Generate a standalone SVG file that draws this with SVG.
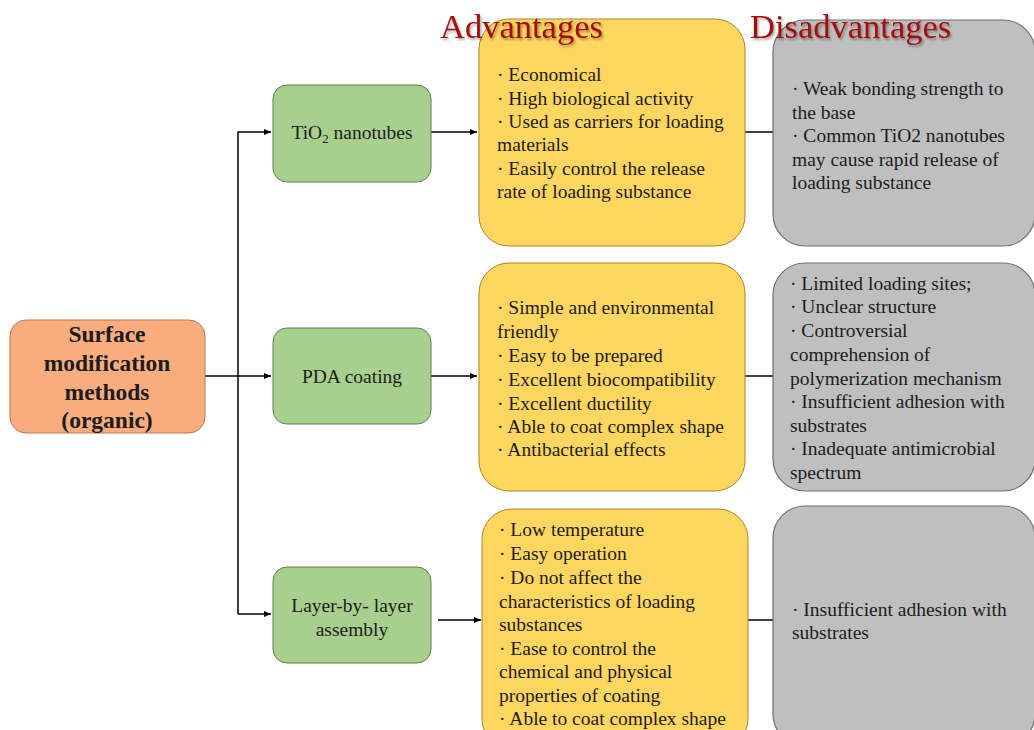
<svg xmlns="http://www.w3.org/2000/svg" width="1034" height="730" viewBox="0 0 1034 730">
<defs>
<style>
.t{font-family:"Liberation Serif","Times New Roman",serif;font-size:19.5px;fill:#1c1c1c}
.c{text-anchor:middle}
.b{font-weight:bold;font-size:23.5px}
.h{font-family:"Liberation Serif","Times New Roman",serif;font-size:34.5px;fill:#a40f10;filter:url(#sh)}
.org{fill:#F9AD7F;stroke:#b8744c;stroke-width:1}
.grn{fill:#A8CF8D;stroke:#5f7f4a;stroke-width:1}
.yel{fill:#FFD65F;stroke:#a8862c;stroke-width:1}
.gry{fill:#BFBFBF;stroke:#707070;stroke-width:1.2}
.ln{fill:none;stroke:#000;stroke-width:1.5}
</style>
<marker id="ah" markerWidth="8" markerHeight="8" refX="7" refY="4" orient="auto" markerUnits="userSpaceOnUse">
<path d="M0,1 L7,4 L0,7 Z" fill="#000"/>
</marker>
<filter id="sh" x="-10%" y="-30%" width="130%" height="160%">
<feDropShadow dx="1.5" dy="2" stdDeviation="1.2" flood-color="#000" flood-opacity="0.35"/>
</filter>
</defs>
<rect width="1034" height="730" fill="#fff"/>

<g id="connectors">
<path class="ln" d="M205,376 H271" marker-end="url(#ah)"/>
<path class="ln" d="M238,614 V132 H271" marker-end="url(#ah)"/>
<path class="ln" d="M238,614 H271" marker-end="url(#ah)"/>
<path class="ln" d="M431,132 H477" marker-end="url(#ah)"/>
<path class="ln" d="M431,376 H477" marker-end="url(#ah)"/>
<path class="ln" d="M438,620 H481" marker-end="url(#ah)"/>
<path class="ln" d="M745,132 H773"/>
<path class="ln" d="M745,376 H773"/>
<path class="ln" d="M748,620 H773"/>
</g>

<g id="root">
<rect class="org" x="10" y="320" width="195" height="113" rx="16"/>
<text class="t c b" x="107" y="342">Surface</text>
<text class="t c b" x="107" y="371">modification</text>
<text class="t c b" x="107" y="400">methods</text>
<text class="t c b" x="107" y="428">(organic)</text>
</g>

<g id="tio2">
<rect class="grn" x="273" y="85" width="158" height="97" rx="14"/>
<text class="t c" x="352" y="139">TiO<tspan font-size="13" dy="4">2</tspan><tspan dy="-4"> nanotubes</tspan></text>
</g>
<g id="pda">
<rect class="grn" x="273" y="328" width="158" height="96" rx="14"/>
<text class="t c" x="352" y="383">PDA coating</text>
</g>
<g id="lbl">
<rect class="grn" x="273" y="567" width="158" height="96" rx="14"/>
<text class="t c" x="352" y="612">Layer-by- layer</text>
<text class="t c" x="352" y="636">assembly</text>
</g>

<g id="adv1">
<rect class="yel" x="479" y="19" width="266" height="227" rx="30"/>
<text class="t" x="497" y="81">· Economical</text>
<text class="t" x="497" y="104.5">· High biological activity</text>
<text class="t" x="497" y="128">· Used as carriers for loading</text>
<text class="t" x="497" y="151">materials</text>
<text class="t" x="497" y="175">· Easily control the release</text>
<text class="t" x="497" y="198">rate of loading substance</text>
</g>
<g id="adv2">
<rect class="yel" x="479" y="263" width="266" height="228" rx="30"/>
<text class="t" x="497" y="314">· Simple and environmental</text>
<text class="t" x="497" y="338">friendly</text>
<text class="t" x="497" y="362">· Easy to be prepared</text>
<text class="t" x="497" y="386">· Excellent biocompatibility</text>
<text class="t" x="497" y="410">· Excellent ductility</text>
<text class="t" x="497" y="433">· Able to coat complex shape</text>
<text class="t" x="497" y="456">· Antibacterial effects</text>
</g>
<g id="adv3">
<rect class="yel" x="482" y="509" width="266" height="240" rx="30"/>
<text class="t" x="499" y="536">· Low temperature</text>
<text class="t" x="499" y="560">· Easy operation</text>
<text class="t" x="499" y="584">· Do not affect the</text>
<text class="t" x="499" y="608">characteristics of loading</text>
<text class="t" x="499" y="631">substances</text>
<text class="t" x="499" y="655">· Ease to control the</text>
<text class="t" x="499" y="678">chemical and physical</text>
<text class="t" x="499" y="702">properties of coating</text>
<text class="t" x="499" y="725">· Able to coat complex shape</text>
</g>

<g id="dis1">
<rect class="gry" x="773" y="20" width="262" height="226" rx="32"/>
<text class="t" x="792" y="95">· Weak bonding strength to</text>
<text class="t" x="792" y="119">the base</text>
<text class="t" x="792" y="142">·  Common TiO2 nanotubes</text>
<text class="t" x="792" y="166">may cause rapid release of</text>
<text class="t" x="792" y="189">loading substance</text>
</g>
<g id="dis2">
<rect class="gry" x="773" y="263" width="262" height="228" rx="32"/>
<text class="t" x="790" y="290">· Limited loading sites;</text>
<text class="t" x="790" y="313">· Unclear structure</text>
<text class="t" x="790" y="337">· Controversial</text>
<text class="t" x="790" y="361">comprehension of</text>
<text class="t" x="790" y="385">polymerization mechanism</text>
<text class="t" x="790" y="408">· Insufficient adhesion with</text>
<text class="t" x="790" y="432">substrates</text>
<text class="t" x="790" y="455">· Inadequate antimicrobial</text>
<text class="t" x="790" y="479">spectrum</text>
</g>
<g id="dis3">
<rect class="gry" x="773" y="506" width="262" height="240" rx="32"/>
<text class="t" x="792" y="616">· Insufficient adhesion with</text>
<text class="t" x="792" y="639">substrates</text>
</g>

<g id="title-adv"><text class="h" x="440" y="38">Advantages</text></g>
<g id="title-dis"><text class="h" x="750" y="38">Disadvantages</text></g>
</svg>
